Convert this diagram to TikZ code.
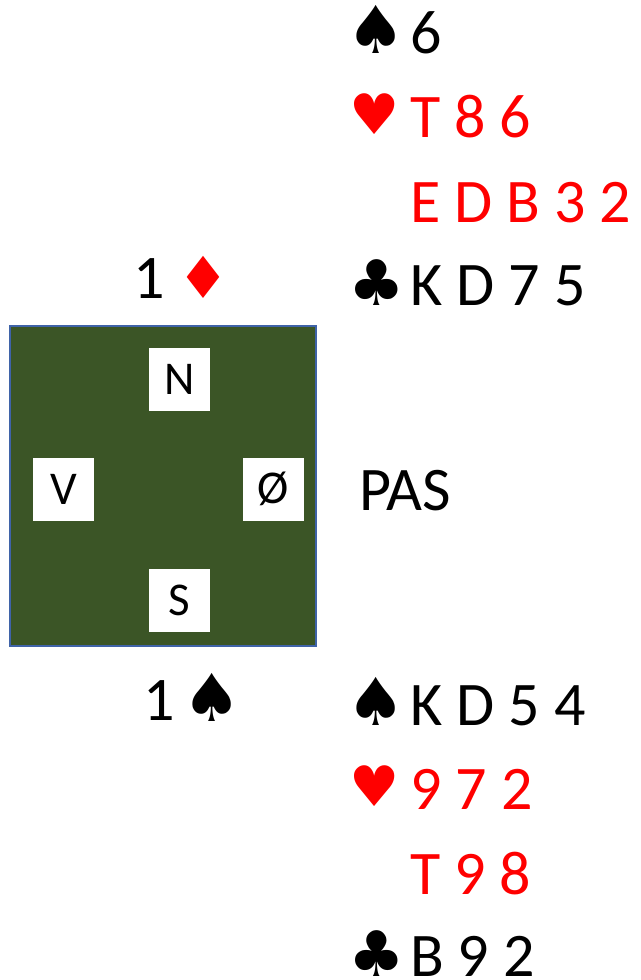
\documentclass[tikz,border=0pt]{standalone}
\usepackage{fontspec}
\setmainfont{Carlito}
\newfontfamily\suitfont{DejaVu Sans}
\definecolor{feltgreen}{HTML}{3B5526}
\definecolor{feltedge}{HTML}{3F63A8}
\definecolor{cardred}{HTML}{FF0000}
\tikzset{
  cards/.style={anchor=base west, inner sep=0pt, font=\fontsize{62bp}{62bp}\selectfont},
  redcards/.style={cards, text=cardred},
  spadesuit/.style={anchor=base west, inner sep=0pt, font=\suitfont\fontsize{66bp}{66bp}\selectfont},
  clubsuit/.style={anchor=base west, inner sep=0pt, font=\suitfont\fontsize{63bp}{63bp}\selectfont},
  heartsuit/.style={anchor=base west, inner sep=0pt, text=cardred, font=\suitfont\fontsize{56bp}{56bp}\selectfont},
  diamondsuit/.style={anchor=base west, inner sep=0pt, text=cardred, font=\suitfont\fontsize{58bp}{58bp}\selectfont},
  seat/.style={fill=white, minimum width=61bp, minimum height=63bp, inner sep=0pt, font=\fontsize{47bp}{47bp}\selectfont},
}
\begin{document}
\begin{tikzpicture}[x=1bp,y=-1bp]
\useasboundingbox (0,0) rectangle (641,980);
% North hand
\node[spadesuit] (ns) at (346,53) {♠};
\node[cards] (nsc) at (410,53) {6};
\node[heartsuit] (nh) at (349,134) {♥};
\node[redcards] (nhc) at (410,137) {T 8 6};
\node[redcards] (ndc) at (410,222) {E D B 3 2};
\node[clubsuit] (nc) at (348,305) {♣};
\node[cards] (ncc) at (410,305) {K D 7 5};
% bid by West
\node[cards] (wb) at (133,298) {1};
\node[diamondsuit] (wbs) at (177,298) {♦};
% table
\node[draw=feltedge, line width=2bp, fill=feltgreen, minimum width=306bp, minimum height=320bp, inner sep=0pt] (table) at (163,486) {};
\node[seat] (N) at (179.5,379.5) {N};
\node[seat] (V) at (63.5,489) {V};
\node[seat] (O) at (273.5,489) {Ø};
\node[seat] (S) at (179.5,600) {S};
% East bid
\node[cards] (pas) at (359,510) {PAS};
% South bid
\node[cards] (sb) at (143,720) {1};
\node[spadesuit] (sbs) at (182,721) {♠};
% South hand
\node[spadesuit] (ss) at (346,725) {♠};
\node[cards] (ssc) at (410,725) {K D 5 4};
\node[heartsuit] (sh) at (349,806) {♥};
\node[redcards] (shc) at (410,809) {9 7 2};
\node[redcards] (sdc) at (410,894) {T 9 8};
\node[clubsuit] (sc) at (348,976) {♣};
\node[cards] (scc) at (410,976) {B 9 2};
\end{tikzpicture}
\end{document}
